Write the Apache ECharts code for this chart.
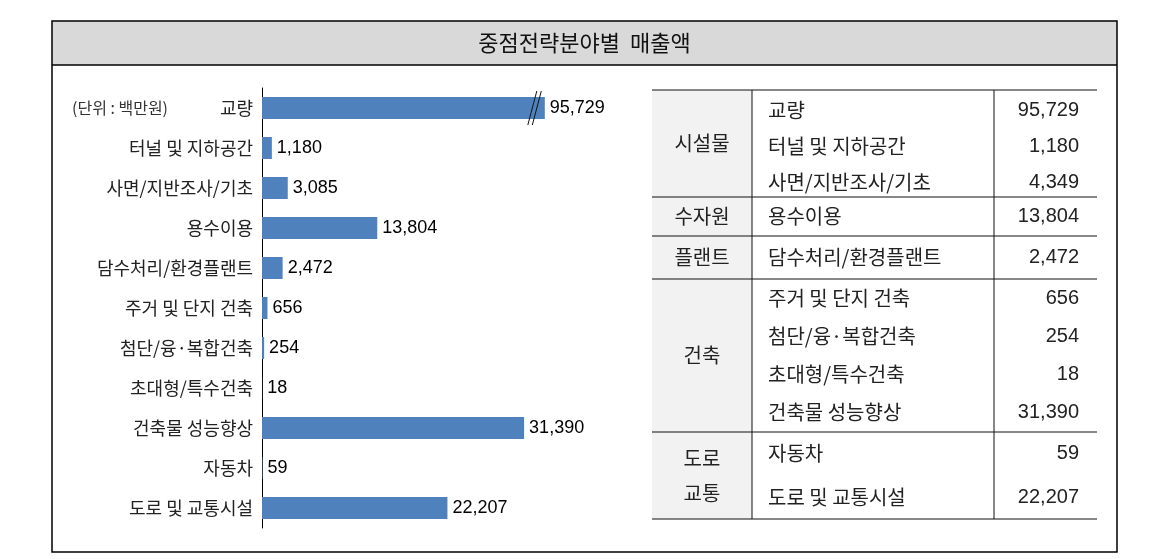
<!DOCTYPE html>
<html>
<head>
<meta charset="utf-8">
<script src="https://cdn.jsdelivr.net/npm/echarts@6/dist/echarts.min.js"></script>
<style>
html,body{margin:0;padding:0;background:#fff;}
#chart{width:1169px;height:559px;}
</style>
</head>
<body>
<div id="chart"></div>
<script>
// ---- data ----
const titleText = '중점전략분야별  매출액';
const unitText = '(단위 : 백만원)';
const categories = ['교량','터널 및 지하공간','사면/지반조사/기초','용수이용','담수처리/환경플랜트','주거 및 단지 건축','첨단/융·복합건축','초대형/특수건축','건축물 성능향상','자동차','도로 및 교통시설'];
const chartValues = [95729,1180,3085,13804,2472,656,254,18,31390,59,22207];
const breakValue = 33870; // displayed length of broken bars

const tableGroups = ['시설물','수자원','플랜트','건축','도로\n교통'];
const tableGroupSizes = [3,1,1,4,2];
const tableItems = ['교량','터널 및 지하공간','사면/지반조사/기초','용수이용','담수처리/환경플랜트','주거 및 단지 건축','첨단/융·복합건축','초대형/특수건축','건축물 성능향상','자동차','도로 및 교통시설'];
const tableValues = [95729,1180,4349,13804,2472,656,254,18,31390,59,22207];

// ---- layout / style ----
const box = {left:52, top:21, right:1117, bottom:552, titleBottom:65};
const tbl = {left:652, col1:752, col2:994, right:1097, top:90, groupHeights:[107,39,43,153,87]};
const fmt = v => v.toLocaleString('en-US');
const KR = '"Noto Sans CJK KR", "Noto Sans", sans-serif';
const NUM = '"Liberation Sans", Arial, sans-serif';
const NUMN = '"Liberation Sans Narrow", "Liberation Sans", Arial, sans-serif';

const graphics = [];
// outer frame and title bar
graphics.push({type:'rect', shape:{x:box.left, y:box.top, width:box.right-box.left, height:box.titleBottom-box.top}, style:{fill:'#d9d9d9', stroke:null}, z:0});
graphics.push({type:'rect', shape:{x:box.left, y:box.top, width:box.right-box.left, height:box.bottom-box.top}, style:{fill:null, stroke:'#000', lineWidth:1.5}, z:5});
graphics.push({type:'line', shape:{x1:box.left, y1:box.titleBottom, x2:box.right, y2:box.titleBottom}, style:{stroke:'#000', lineWidth:1.5}, z:5});
graphics.push({type:'text', x:(box.left+box.right)/2, y:(box.top+box.titleBottom)/2, style:{text:titleText, fontFamily:KR, fontSize:22, fill:'#111', align:'center', verticalAlign:'middle'}, z:6});
graphics.push({type:'text', x:72, y:108, style:{text:unitText, fontFamily:KR, fontSize:16, fill:'#333', align:'left', verticalAlign:'middle'}, z:6});

// table
const tblBottom = tbl.top + tbl.groupHeights.reduce((a,b)=>a+b,0);
graphics.push({type:'rect', shape:{x:tbl.left, y:tbl.top, width:tbl.col1-tbl.left, height:tblBottom-tbl.top}, style:{fill:'#f2f2f2', stroke:null}, z:1});
graphics.push({type:'line', shape:{x1:tbl.col1, y1:tbl.top, x2:tbl.col1, y2:tblBottom}, style:{stroke:'#111', lineWidth:1}, z:3});
graphics.push({type:'line', shape:{x1:tbl.col2, y1:tbl.top, x2:tbl.col2, y2:tblBottom}, style:{stroke:'#111', lineWidth:1}, z:3});
let gy = tbl.top, r = 0;
graphics.push({type:'line', shape:{x1:tbl.left, y1:gy, x2:tbl.right, y2:gy}, style:{stroke:'#111', lineWidth:1}, z:3});
tableGroups.forEach((g, gi) => {
  const h = tbl.groupHeights[gi], n = tableGroupSizes[gi];
  graphics.push({type:'text', x:(tbl.left+tbl.col1)/2, y:gy+h/2, style:{text:g, fontFamily:KR, fontSize:20, fill:'#222', align:'center', verticalAlign:'middle', lineHeight:35}, z:4});
  for (let i = 0; i < n; i++, r++) {
    const cy = gy + h*(i+0.5)/n + (gi===0 ? 3 : 0);
    graphics.push({type:'text', x:tbl.col1+16, y:cy, style:{text:tableItems[r], fontFamily:KR, fontSize:20, fill:'#222', align:'left', verticalAlign:'middle'}, z:4});
    graphics.push({type:'text', x:tbl.right-18, y:cy, style:{text:fmt(tableValues[r]), fontFamily:NUMN, fontSize:20, fill:'#222', align:'right', verticalAlign:'middle'}, z:4});
  }
  gy += h;
  graphics.push({type:'line', shape:{x1:tbl.left, y1:gy, x2:tbl.right, y2:gy}, style:{stroke:'#111', lineWidth:1}, z:3});
});

const chart = echarts.init(document.getElementById('chart'), null, {renderer:'canvas'});
chart.setOption({
  animation:false,
  backgroundColor:'#fff',
  grid:{left:262, top:88, width:334, height:440, containLabel:false},
  xAxis:{type:'value', min:0, max:40000, show:false},
  yAxis:{type:'category', data:categories, inverse:true,
    axisLine:{show:true, lineStyle:{color:'#000', width:1}},
    axisTick:{show:false},
    axisLabel:{fontFamily:KR, fontSize:18, color:'#222', margin:9},
    splitLine:{show:false}},
  series:[
    {type:'bar', barWidth:22,
     data:chartValues.map(v => Math.min(v, breakValue)),
     itemStyle:{color:'#4f81bd'},
     label:{show:true, position:'right', distance:5, fontFamily:NUM, fontSize:18, color:'#000',
       formatter:p => fmt(chartValues[p.dataIndex])}},
    {type:'custom', z:10,
     encode:{x:0, y:1},
     data:chartValues.map((v,i)=> v > breakValue ? [breakValue, i] : null).filter(d=>d),
     renderItem:(params, api) => {
       const p = api.coord([api.value(0), api.value(1)]);
       const children = [-12.5, -8].map(off => ({type:'line',
         shape:{x1:p[0]+off-4.5, y1:p[1]+17, x2:p[0]+off+4.5, y2:p[1]-17},
         style:{stroke:'#111', lineWidth:1}}));
       return {type:'group', children};
     }}
  ],
  graphic:graphics
});
</script>
</body>
</html>
